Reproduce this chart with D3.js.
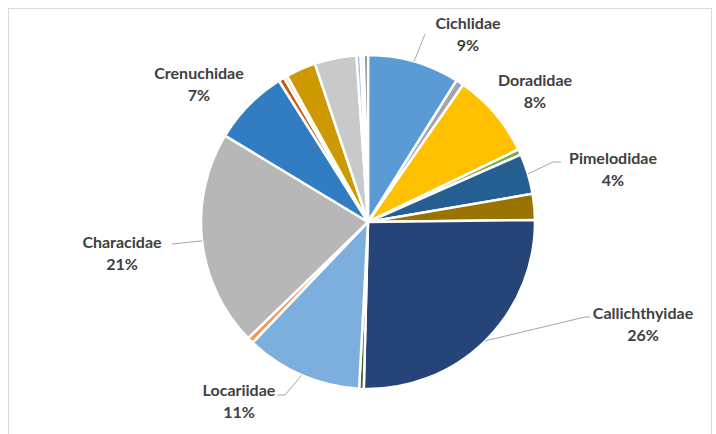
<!DOCTYPE html>
<html>
<head>
<meta charset="utf-8">
<script src="https://cdn.jsdelivr.net/npm/d3@7"></script>
<style>
  html, body { margin: 0; padding: 0; background: #fff; }
  svg { display: block; }
  .lbl { font-family: Lato, "Open Sans", sans-serif; font-weight: bold; fill: #404040; }
</style>
</head>
<body>
<svg id="chart" width="716" height="434"></svg>
<script>
// ---- data (clockwise from 12 o'clock) ----
const categories = [
  "Cichlidae", "Other 1", "Doradidae", "Other 2", "Pimelodidae", "Other 3",
  "Callichthyidae", "Other 4", "Locariidae", "Other 5", "Characidae", "Crenuchidae",
  "Other 6", "Other 7", "Other 8", "Other 9", "Other 10", "Other 11", "Other 12"
];
const values = [
  8.9, 0.75, 8.2, 0.55, 3.9, 2.5,
  25.6, 0.45, 11.3, 0.6, 20.9, 7.4,
  0.55, 0.35, 2.9, 4.05, 0.4, 0.3, 0.4
];
const sliceColors = [
  "#5B9BD5", "#A5A5A5", "#FFC000", "#70AD47", "#255E91", "#997300",
  "#264478", "#43682B", "#7CAFDD", "#F1975A", "#B7B7B7", "#327DC2",
  "#C55A11", "#F8CBAD", "#CC9A00", "#C9C9C9", "#9DC3E6", "#DEEBF7", "#7F7F7F"
];
const labeled = ["Cichlidae", "Doradidae", "Pimelodidae", "Callichthyidae", "Locariidae", "Characidae", "Crenuchidae"];

// ---- layout ----
const W = 716, H = 434;
const cx = 368, cy = 222, R = 167;
// label placement: center x, first baseline y, optional leader elbow points
const labelLayout = {
  "Cichlidae":      { x: 468, y: 29,  leader: [[425, 34]] },
  "Doradidae":      { x: 535, y: 86,  leader: null },
  "Pimelodidae":    { x: 613, y: 164, leader: [[553, 162], [561, 162]] },
  "Callichthyidae": { x: 643, y: 319, leader: [[585, 317], [590, 317]] },
  "Locariidae":     { x: 239, y: 396, leader: [[285, 395], [277, 395]] },
  "Characidae":     { x: 122, y: 248, leader: [[172, 244]] },
  "Crenuchidae":    { x: 199, y: 79,  leader: null }
};
const lineGap = 22;

const svg = d3.select("#chart");

// chart border
svg.append("rect")
  .attr("x", 8.5).attr("y", 8.5)
  .attr("width", 703).attr("height", 440)
  .attr("fill", "#fff").attr("stroke", "#D9D9D9").attr("stroke-width", 1);

const data = categories.map((c, i) => ({ name: c, value: values[i], color: sliceColors[i] }));
const total = d3.sum(values);
const pie = d3.pie().value(d => d.value).sort(null);
const arcs = pie(data);
const arc = d3.arc().innerRadius(0).outerRadius(R);

const g = svg.append("g").attr("transform", `translate(${cx},${cy})`);
g.selectAll("path.slice")
  .data(arcs)
  .join("path")
  .attr("class", "slice")
  .attr("d", arc)
  .attr("fill", d => d.data.color)
  .attr("stroke", "#fff")
  .attr("stroke-width", 2.5)
  .attr("stroke-linejoin", "round");

const pct = d3.format(".0%");

// leader lines
arcs.filter(a => labeled.includes(a.data.name)).forEach(a => {
  const L = labelLayout[a.data.name];
  if (!L.leader) return;
  const mid = (a.startAngle + a.endAngle) / 2;
  const start = [cx + R * Math.sin(mid), cy - R * Math.cos(mid)];
  const pts = [start, ...L.leader];
  svg.append("path")
    .attr("d", d3.line()(pts))
    .attr("fill", "none")
    .attr("stroke", "#A6A6A6")
    .attr("stroke-width", 1);
});

// labels
arcs.filter(a => labeled.includes(a.data.name)).forEach(a => {
  const L = labelLayout[a.data.name];
  const t = svg.append("text").attr("class", "lbl")
    .attr("text-anchor", "middle")
    .style("font-size", "16px");
  t.append("tspan").attr("x", L.x).attr("y", L.y).text(a.data.name);
  t.append("tspan").attr("x", L.x).attr("y", L.y + lineGap).text(pct(a.data.value / total));
});
</script>
</body>
</html>
